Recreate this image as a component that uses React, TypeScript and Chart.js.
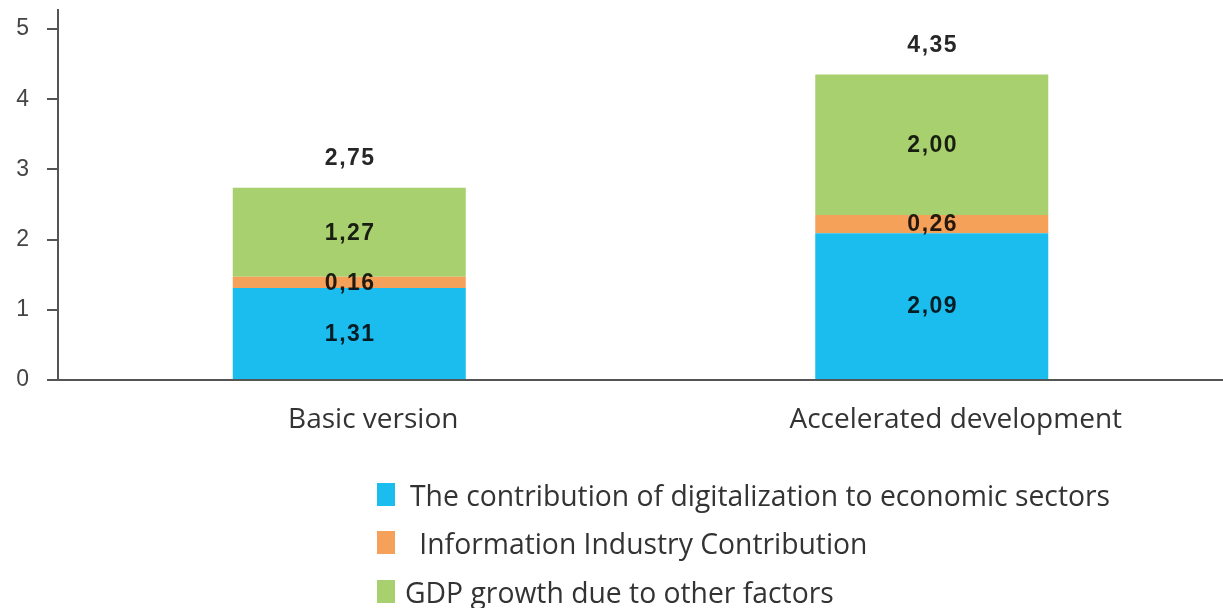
import React, { useEffect, useRef } from "react";
import { Chart, registerables } from "chart.js";

Chart.register(...registerables);

const categories = ["Basic version", "Accelerated development"];
const seriesNames = [
  "The contribution of digitalization to economic sectors",
  " Information Industry Contribution",
  "GDP growth due to other factors",
];
const digitalization = [1.31, 2.09];
const infoIndustry = [0.16, 0.26];
const otherFactors = [1.27, 2.0];
const totals = [2.75, 4.35];
const yTicks = [0, 1, 2, 3, 4, 5];
const colors = ["#1bbdee", "#f6a15a", "#a8d06f"];

const fmt = (v: number) => v.toFixed(2).replace(".", ",");

const labelPlugin = {
  id: "valueLabels",
  afterDatasetsDraw(chart: any) {
    const ctx = chart.ctx;
    ctx.save();
    ctx.font = 'bold 23px "Liberation Sans", Arial, sans-serif';
    (ctx as any).letterSpacing = "1.5px";
    ctx.fillStyle = "rgba(0,0,0,0.85)";
    ctx.textAlign = "center";
    ctx.textBaseline = "middle";
    chart.data.datasets.forEach((ds: any, di: number) => {
      const meta = chart.getDatasetMeta(di);
      meta.data.forEach((el: any, i: number) => {
        const y = (el.y + el.base) / 2;
        ctx.fillText(fmt(ds.data[i]), el.x + 1, y + 1);
      });
    });
    const last = chart.getDatasetMeta(chart.data.datasets.length - 1);
    last.data.forEach((el: any, i: number) => {
      ctx.fillText(fmt(totals[i]), el.x + 1, el.y - 29);
    });
    ctx.restore();
  },
};

export default function App() {
  const ref = useRef<HTMLCanvasElement>(null);
  useEffect(() => {
    const chart = new Chart(ref.current!, {
      type: "bar",
      data: {
        labels: categories,
        datasets: [
          { label: seriesNames[0], data: digitalization, backgroundColor: colors[0] },
          { label: seriesNames[1], data: infoIndustry, backgroundColor: colors[1] },
          { label: seriesNames[2], data: otherFactors, backgroundColor: colors[2] },
        ],
      },
      options: {
        responsive: false,
        animation: false,
        layout: { padding: { top: 10, bottom: 168, left: 0, right: 0 } },
        plugins: { legend: { display: false }, tooltip: { enabled: false } },
        datasets: { bar: { categoryPercentage: 1, barPercentage: 0.4 } } as any,
        scales: {
          x: {
            stacked: true,
            grid: { display: false, drawTicks: false },
            border: { display: true, color: "#555", width: 2 },
            ticks: {
              color: "#333",
              padding: 23,
              labelOffset: 24,
              font: { family: '"Open Sans", sans-serif', size: 28 },
            },
            afterFit: (s: any) => {
              s.height = 60;
              s.paddingLeft = 0;
              s.paddingRight = 0;
            },
          },
          y: {
            stacked: true,
            min: 0,
            max: 5.27,
            grid: { drawOnChartArea: false, drawTicks: true, tickLength: 11, color: "#555", lineWidth: 2 },
            border: { display: true, color: "#555", width: 2 },
            ticks: {
              color: "#444",
              padding: 18,
              font: { family: '"Liberation Sans", Arial, sans-serif', size: 23 },
            },
            afterBuildTicks: (s: any) => {
              s.ticks = yTicks.map((v) => ({ value: v }));
            },
            afterFit: (s: any) => {
              s.width = 58;
              s.paddingTop = 0;
              s.paddingBottom = 0;
            },
          },
        },
      },
      plugins: [labelPlugin],
    });
    return () => chart.destroy();
  }, []);

  const legendTop = [483, 531, 580];
  const textLeft = [410, 412, 405];
  return (
    <div style={{ position: "absolute", left: 0, top: 0, width: 1223, height: 608, background: "#fff", overflow: "hidden" }}>
      <canvas ref={ref} width={1223} height={608} style={{ display: "block" }} />
      {seriesNames.map((n, i) => (
        <React.Fragment key={n}>
          <div
            style={{
              position: "absolute",
              left: 377,
              top: legendTop[i],
              width: 18,
              height: 23,
              background: colors[i],
            }}
          />
          <div
            style={{
              position: "absolute",
              left: textLeft[i],
              top: legendTop[i] - 8,
              height: 40,
              lineHeight: "40px",
              fontFamily: '"Open Sans", sans-serif',
              fontSize: 28.3,
              color: "#333",
              whiteSpace: "pre",
            }}
          >
            {n}
          </div>
        </React.Fragment>
      ))}
    </div>
  );
}
